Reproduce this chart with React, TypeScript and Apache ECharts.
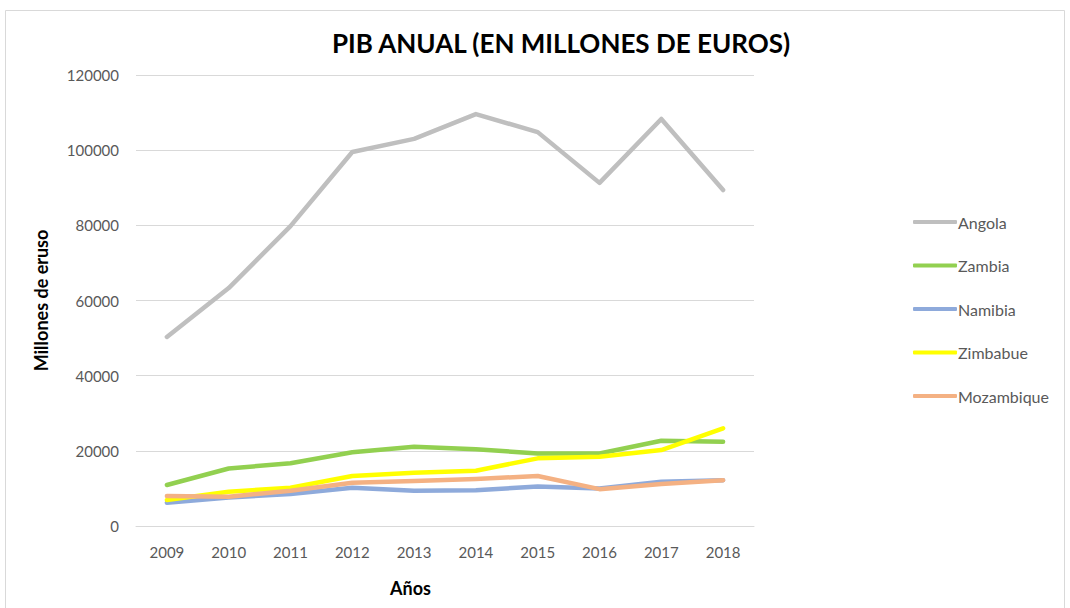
import React, { useEffect, useRef } from "react";
import * as echarts from "echarts";

const years = ["2009", "2010", "2011", "2012", "2013", "2014", "2015", "2016", "2017", "2018"];
const angola = [50300, 63300, 79800, 99500, 103000, 109600, 104800, 91300, 108300, 89400];
const zambia = [10900, 15300, 16700, 19600, 21100, 20400, 19300, 19300, 22700, 22400];
const namibia = [6200, 7600, 8500, 10200, 9400, 9500, 10500, 10000, 11800, 12200];
const zimbabue = [6900, 9100, 10200, 13300, 14200, 14700, 18000, 18400, 20200, 26000];
const mozambique = [8000, 7800, 9400, 11500, 12000, 12500, 13300, 9800, 11200, 12200];

const seriesNames = ["Angola", "Zambia", "Namibia", "Zimbabue", "Mozambique"];
const seriesData = [angola, zambia, namibia, zimbabue, mozambique];
const colors = ["#bfbfbf", "#92d050", "#8eaadb", "#ffff00", "#f4b183"];

const FONT = "Lato, 'Open Sans', sans-serif";

export default function App() {
  const ref = useRef<HTMLDivElement>(null);
  useEffect(() => {
    if (!ref.current) return;
    const chart = echarts.init(ref.current, null, { renderer: "svg" });
    chart.setOption({
      animation: false,
      backgroundColor: "#ffffff",
      title: {
        text: "PIB ANUAL (EN MILLONES DE EUROS)",
        left: 556,
        textAlign: "center",
        top: 25,
        textStyle: { fontFamily: FONT, fontSize: 26, fontWeight: "bold", color: "#000000" },
      },
      graphic: [
        {
          type: "rect",
          shape: { x: 5.5, y: 10.5, width: 1059, height: 620 },
          style: { fill: "none", stroke: "#d9d9d9", lineWidth: 1 },
          silent: true,
          z: -1,
        },
        {
          type: "text",
          left: 390,
          top: 579,
          style: { text: "Años", fontFamily: FONT, fontSize: 18, fontWeight: "bold", fill: "#000000" },
          silent: true,
        },
      ],
      legend: {
        orient: "vertical",
        left: 908,
        top: 209,
        itemWidth: 44,
        itemHeight: 4,
        itemGap: 27.5,
        icon: "roundRect",
        data: seriesNames,
        textStyle: { fontFamily: FONT, fontSize: 16, color: "#595959", padding: [0, 0, 0, -4] },
      },
      grid: { left: 136, right: 316, top: 75, bottom: 82 },
      xAxis: {
        type: "category",
        data: years,
        boundaryGap: true,
        axisLine: { show: true, lineStyle: { color: "#d9d9d9", width: 1 } },
        axisTick: { show: false },
        axisLabel: { fontFamily: FONT, fontSize: 15, color: "#595959", margin: 18 },
      },
      yAxis: {
        type: "value",
        min: 0,
        max: 120000,
        interval: 20000,
        axisLine: { show: false },
        axisTick: { show: false },
        splitLine: { lineStyle: { color: "#d9d9d9", width: 1 } },
        axisLabel: { fontFamily: FONT, fontSize: 15, color: "#595959", margin: 17, formatter: (v: number) => String(v) },
        name: "Millones de eruso",
        nameLocation: "middle",
        nameGap: 86,
        nameRotate: 90,
        nameTextStyle: { fontFamily: FONT, fontSize: 18, fontWeight: "bold", color: "#000000" },
      },
      series: seriesNames.map((n, i) => ({
        name: n,
        type: "line",
        data: seriesData[i],
        symbol: "none",
        color: colors[i],
        lineStyle: { width: 4.5, color: colors[i], cap: "round", join: "round" },
        itemStyle: { color: colors[i] },
      })),
    });
    return () => chart.dispose();
  }, []);
  return <div ref={ref} style={{ position: "fixed", left: 0, top: 0, width: 1070, height: 608 }} />;
}
